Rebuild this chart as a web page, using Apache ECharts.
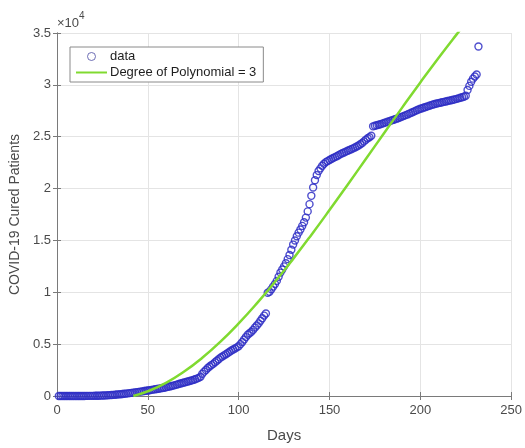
<!DOCTYPE html>
<html>
<head>
<meta charset="utf-8">
<script src="https://cdn.jsdelivr.net/npm/echarts@6/dist/echarts.min.js"></script>
<style>
  html, body { margin: 0; padding: 0; background: #fff; }
  #chart { width: 525px; height: 448px; }
</style>
</head>
<body>
<div id="chart"></div>
<script>
// Cumulative cured patients, one value per day starting at day 1
const curedPatients = [
  0, 0, 0, 0, 0, 0, 0, 0, 2, 2,
  3, 3, 4, 5, 6, 8, 10, 12, 14, 16,
  20, 25, 30, 36, 42, 50, 60, 70, 82, 95,
  108, 122, 138, 155, 172, 190, 210, 230, 252, 275,
  300, 325, 350, 375, 400, 425, 450, 478, 505, 532,
  560, 588, 616, 645, 675, 705, 735, 765, 800, 840,
  880, 920, 960, 1000, 1050, 1100, 1150, 1200, 1250, 1300,
  1350, 1400, 1450, 1500, 1550, 1610, 1680, 1750, 1850, 2150,
  2350, 2500, 2700, 2850, 2980, 3100, 3250, 3400, 3550, 3700,
  3800, 3920, 4030, 4150, 4260, 4380, 4480, 4580, 4690, 4800,
  5000, 5200, 5450, 5680, 5900, 6050, 6200, 6380, 6600, 6800,
  7000, 7250, 7500, 7750, 7950, 9950, 10050, 10300, 10550, 10800,
  11100, 11500, 11900, 12200, 12500, 12800, 13200, 13600, 14100, 14600,
  15000, 15400, 15750, 16050, 16400, 16750, 17200, 17800, 18500, 19300,
  20100, 20800, 21300, 21700, 21950, 22200, 22400, 22550, 22650, 22750,
  22850, 22950, 23030, 23120, 23220, 23320, 23400, 23480, 23560, 23640,
  23720, 23800, 23880, 23960, 24050, 24150, 24280, 24400, 24550, 24700,
  24850, 24950, 25100, 26000, 26050, 26100, 26150, 26200, 26260, 26320,
  26380, 26440, 26500, 26560, 26620, 26680, 26740, 26800, 26870, 26940,
  27010, 27080, 27150, 27230, 27310, 27390, 27470, 27550, 27620, 27690,
  27750, 27810, 27870, 27930, 27990, 28050, 28100, 28150, 28200, 28240,
  28280, 28320, 28360, 28400, 28440, 28480, 28520, 28560, 28600, 28650,
  28700, 28750, 28800, 28850, 28950, 29500, 29900, 30300, 30600, 30800,
  31000, 33700
];

// Third-degree polynomial fit, sampled along the day axis
const fitDays = [42, 50, 60, 70, 80, 90, 100, 110, 120, 130, 140, 150, 160, 170, 180, 190, 200, 210, 220, 225];
const fitValues = [0, 455, 1268, 2353, 3685, 5241, 6997, 8928, 11011, 13221, 15534, 17926, 20374, 22852, 25338, 27806, 30233, 32595, 34867, 35963];

const xTicks = { min: 0, max: 250, interval: 50 };
const yTicks = { min: 0, max: 35000, interval: 5000 };
const yScale = 10000;

const FONT = "'Liberation Sans', Arial, Helvetica, sans-serif";
const AXIS_COLOR = '#7a7a7a';
const LABEL_COLOR = '#4a4a4a';
const DATA_COLOR = '#2e2ec4';
const FIT_COLOR = '#80da30';

const scatterData = curedPatients.map((v, i) => [i + 1, v]);
const fitData = fitDays.map((d, i) => [d, fitValues[i]]);

const chart = echarts.init(document.getElementById('chart'), null, { renderer: 'canvas' });

// top and right edges of the axes box: ticks only
const boxAxis = {
  axisLine: { show: true, lineStyle: { color: AXIS_COLOR, width: 1 } },
  axisTick: { show: true, inside: true, length: 4, lineStyle: { color: AXIS_COLOR } },
  splitLine: { show: false },
  axisLabel: { show: false }
};

chart.setOption({
  animation: false,
  backgroundColor: '#ffffff',
  textStyle: { fontFamily: FONT },
  grid: { left: 57, right: 9, top: 33, bottom: 45, containLabel: false },
  xAxis: [
    {
      type: 'value', position: 'bottom',
      min: xTicks.min, max: xTicks.max, interval: xTicks.interval,
      name: 'Days', nameLocation: 'middle', nameGap: 32,
      nameTextStyle: { color: LABEL_COLOR, fontSize: 15, fontFamily: FONT },
      axisLine: { show: true, onZero: false, lineStyle: { color: AXIS_COLOR, width: 1 } },
      axisTick: { show: true, inside: true, length: 4, lineStyle: { color: AXIS_COLOR } },
      axisLabel: { color: LABEL_COLOR, fontSize: 13, fontFamily: FONT, margin: 8 },
      splitLine: { show: true, lineStyle: { color: '#e4e4e4', width: 1 } }
    },
    Object.assign({
      type: 'value', position: 'top',
      min: xTicks.min, max: xTicks.max, interval: xTicks.interval
    }, boxAxis)
  ],
  yAxis: [
    {
      type: 'value', position: 'left',
      min: yTicks.min, max: yTicks.max, interval: yTicks.interval,
      name: 'COVID-19 Cured Patients', nameLocation: 'middle', nameGap: 33,
      nameTextStyle: { color: LABEL_COLOR, fontSize: 14, fontFamily: FONT },
      axisLine: { show: true, onZero: false, lineStyle: { color: AXIS_COLOR, width: 1 } },
      axisTick: { show: true, inside: true, length: 4, lineStyle: { color: AXIS_COLOR } },
      axisLabel: {
        color: LABEL_COLOR, fontSize: 13, fontFamily: FONT, margin: 6,
        formatter: v => String(v / yScale)
      },
      splitLine: { show: true, lineStyle: { color: '#e4e4e4', width: 1 } }
    },
    Object.assign({
      type: 'value', position: 'right',
      min: yTicks.min, max: yTicks.max, interval: yTicks.interval
    }, boxAxis)
  ],
  legend: {
    orient: 'vertical',
    left: 70, top: 47,
    backgroundColor: '#ffffff',
    borderColor: '#8a8a8a', borderWidth: 1, borderRadius: 0,
    padding: [3, 7, 3, 5],
    itemGap: 3,
    itemWidth: 31, itemHeight: 8,
    textStyle: { color: '#1e1e1e', fontSize: 13, fontFamily: FONT, padding: [0, 0, 0, -2] },
    data: [
      { name: 'data', icon: 'circle',
        itemStyle: { color: 'rgba(0,0,0,0)', borderColor: '#5656a8', borderWidth: 1 } },
      { name: 'Degree of Polynomial = 3', itemStyle: { opacity: 0 } }
    ]
  },
  graphic: [
    {
      type: 'text', left: 57, top: 11,
      style: {
        text: '{b|×10}{s|4}',
        rich: {
          b: { fontSize: 13, fontFamily: FONT, fill: LABEL_COLOR, verticalAlign: 'bottom', padding: [6, 0, 0, 0] },
          s: { fontSize: 10, fontFamily: FONT, fill: LABEL_COLOR, verticalAlign: 'top', padding: [0, 0, 7, 0] }
        }
      }
    }
  ],
  series: [
    {
      name: 'data',
      type: 'scatter',
      xAxisIndex: 0, yAxisIndex: 0,
      symbol: 'circle',
      symbolSize: 7,
      itemStyle: { color: 'rgba(0,0,0,0)', borderColor: DATA_COLOR, borderWidth: 1.4, opacity: 0.85 },
      emphasis: { disabled: true },
      data: scatterData,
      z: 2
    },
    {
      name: 'Degree of Polynomial = 3',
      type: 'line',
      xAxisIndex: 0, yAxisIndex: 0,
      symbol: 'none',
      smooth: true,
      clip: true,
      lineStyle: { color: FIT_COLOR, width: 2.5 },
      itemStyle: { color: FIT_COLOR },
      data: fitData,
      z: 3
    }
  ]
});
</script>
</body>
</html>
